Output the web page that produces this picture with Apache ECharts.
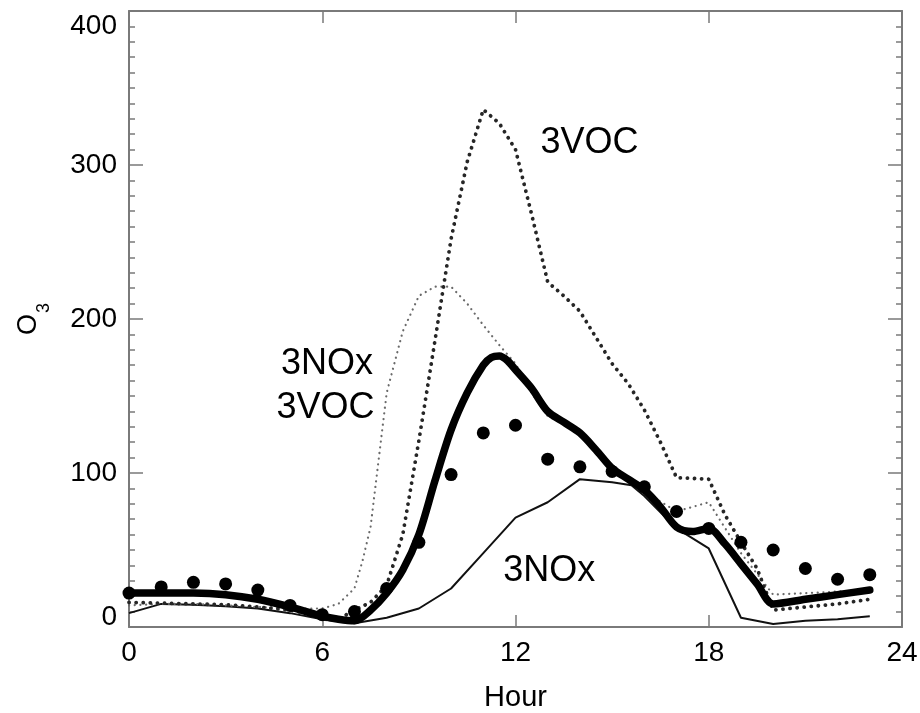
<!DOCTYPE html>
<html>
<head>
<meta charset="utf-8">
<title>O3 diurnal cycle</title>
<script src="https://cdn.jsdelivr.net/npm/echarts@6/dist/echarts.min.js"></script>
<style>
  html, body { margin: 0; padding: 0; background: #fff; }
  #chart { width: 920px; height: 713px; }
</style>
</head>
<body>
<div id="chart"></div>
<script>
// Observed O3, hourly
const obsHours = [0, 1, 2, 3, 4, 5, 6, 7, 8, 9, 10, 11, 12, 13, 14, 15, 16, 17, 18, 19, 20, 21, 22, 23];
const obsO3 = [22, 26, 29, 28, 24, 14, 8, 10, 25, 55, 99, 126, 131, 109, 104, 101, 91, 75, 64, 55, 50, 38, 31, 34];

// Base-case model run (thick solid line)
const baseHours = [0, 1, 2, 3, 4, 5, 6, 6.5, 7, 7.5, 8, 8.5, 9, 9.5, 10, 10.5, 11, 11.25, 11.5, 11.75, 12, 12.5, 13, 13.5, 14, 14.5, 15, 15.5, 16, 16.5, 17, 17.5, 18, 18.5, 19, 19.5, 20, 21, 22, 23];
const baseO3 = [22, 22, 22, 21, 18, 13, 7, 5, 4, 11, 22, 37, 60, 95, 128, 152, 170, 175, 176, 173, 167, 155, 140, 133, 126, 115, 103, 96, 89, 78, 65, 62, 64, 54, 41, 28, 15, 18, 21, 24];

// Run with VOC emissions tripled (thick dotted line)
const vocHours = [0, 1, 2, 3, 4, 5, 5.5, 6, 6.5, 7, 7.5, 8, 8.5, 9, 9.5, 10, 10.5, 11, 11.5, 12, 12.5, 13, 13.5, 14, 14.5, 15, 15.5, 16, 16.5, 17, 18, 18.5, 19, 19.5, 20, 21, 22, 23];
const vocO3 = [16, 15.5, 15, 14.5, 13, 11, 9, 5, 5, 11, 16, 27, 60, 121, 186, 252, 302, 336, 327, 310, 268, 224, 215, 205, 188, 171, 158, 141, 120, 97, 96, 73, 55, 38, 11, 13, 15, 18];

// Run with both NOx and VOC tripled (thin dotted line)
const bothHours = [0, 1, 2, 3, 4, 5, 6, 6.5, 7, 7.25, 7.5, 8, 8.5, 9, 9.5, 10, 10.5, 11, 11.5, 12, 12.5, 13, 14, 15, 16, 17, 18, 19, 20, 21, 22, 23];
const bothO3 = [14, 15, 15, 14, 13, 12, 12, 15, 25, 43, 65, 152, 192, 215, 221, 221, 210, 196, 183, 171, 152, 137, 126, 103, 88, 75, 81, 48, 21, 22, 23, 24];

// Run with NOx tripled (thin solid line)
const noxHours = [0, 1, 2, 3, 4, 5, 6, 7, 8, 9, 10, 11, 12, 13, 14, 15, 15.6, 16, 17, 18, 19, 20, 21, 22, 23];
const noxO3 = [9, 15, 14.5, 13.5, 12, 9, 5, 2.5, 6, 12, 25, 48, 71, 81, 96, 94, 92, 85, 64, 51, 6, 2, 4, 5, 7];

// Axis ticks
const xTicks = [0, 6, 12, 18, 24];
const yTicks = [0, 100, 200, 300, 400];

// Curve annotations: [hour, O3, text]
const annotations = [
  [14.3, 314, '3VOC'],
  [6.15, 171, '3NOx'],
  [6.1, 142, '3VOC'],
  [13.05, 36, '3NOx']
];

const FONT = '"Liberation Sans", Arial, Helvetica, sans-serif';
const INK = '#000';
const AXIS_GRAY = '#7a7a7a';
const zip = (xs, ys) => xs.map((x, i) => [x, ys[i]]);

const chart = echarts.init(document.getElementById('chart'), null, { renderer: 'canvas' });

const frameX = (pos, showLabels) => ({
  type: 'value',
  position: pos,
  min: xTicks[0],
  max: xTicks[xTicks.length - 1],
  interval: xTicks[1] - xTicks[0],
  axisLine: { show: true, onZero: false, lineStyle: { color: AXIS_GRAY, width: 2 } },
  axisTick: { show: true, inside: true, length: 12, lineStyle: { color: AXIS_GRAY, width: 1.5 } },
  minorTick: { show: false },
  splitLine: { show: false },
  axisLabel: {
    show: showLabels, margin: 12, fontSize: 28, lineHeight: 28,
    fontFamily: FONT, color: INK
  },
  name: showLabels ? 'Hour' : '',
  nameLocation: 'middle',
  nameGap: 56,
  nameTextStyle: { fontSize: 29, lineHeight: 29, fontFamily: FONT, color: INK }
});

const frameY = (pos, showLabels) => ({
  type: 'value',
  position: pos,
  min: yTicks[0],
  max: yTicks[yTicks.length - 1],
  interval: yTicks[1] - yTicks[0],
  axisLine: { show: true, onZero: false, lineStyle: { color: AXIS_GRAY, width: 2 } },
  axisTick: { show: true, inside: true, length: 14, lineStyle: { color: AXIS_GRAY, width: 1.5 } },
  minorTick: { show: true, splitNumber: 10, length: 6, lineStyle: { color: AXIS_GRAY, width: 1.5 } },
  splitLine: { show: false },
  axisLabel: {
    show: showLabels, margin: 12,
    fontSize: 28, fontFamily: FONT, color: INK,
    formatter: v => v === yTicks[0] ? '{lo|' + v + '}' : (v === yTicks[yTicks.length - 1] ? '{hi|' + v + '}' : String(v)),
    rich: {
      lo: { fontSize: 28, fontFamily: FONT, color: INK, padding: [0, 0, 20, 0] },
      hi: { fontSize: 28, fontFamily: FONT, color: INK, padding: [30, 0, 0, 0] }
    }
  },
  name: showLabels ? '{o|O}{s|3}' : '',
  nameLocation: 'middle',
  nameRotate: 90,
  nameGap: 88,
  nameTextStyle: {
    rich: {
      o: { fontSize: 27, lineHeight: 26, fontFamily: FONT, color: INK, verticalAlign: 'top' },
      s: { fontSize: 18, lineHeight: 16, fontFamily: FONT, color: INK, verticalAlign: 'top', padding: [20, 0, 0, 1] }
    }
  }
});

chart.setOption({
  animation: false,
  backgroundColor: '#ffffff',
  grid: { left: 129, right: 18, top: 11, bottom: 86, containLabel: false, outerBoundsMode: 'none' },
  xAxis: [frameX('bottom', true), frameX('top', false)],
  yAxis: [frameY('left', true), frameY('right', false)],
  series: [
    {
      name: '3NOx',
      type: 'line',
      data: zip(noxHours, noxO3),
      showSymbol: false,
      lineStyle: { color: '#111', width: 2 },
      z: 2
    },
    {
      name: '3NOx 3VOC',
      type: 'line',
      data: zip(bothHours, bothO3),
      showSymbol: false,
      lineStyle: { color: '#6a6a6a', width: 2.2, type: [0.1, 5.6], cap: 'round' },
      z: 2
    },
    {
      name: '3VOC',
      type: 'line',
      data: zip(vocHours, vocO3),
      showSymbol: false,
      lineStyle: { color: '#262626', width: 3.8, type: [0.1, 7], cap: 'round' },
      z: 3
    },
    {
      name: 'Base',
      type: 'line',
      data: zip(baseHours, baseO3),
      showSymbol: false,
      smooth: 0.3,
      lineStyle: { color: '#000', width: 7.5, cap: 'round', join: 'round' },
      z: 4
    },
    {
      name: 'Observed',
      type: 'scatter',
      data: zip(obsHours, obsO3),
      symbol: 'circle',
      symbolSize: 13,
      itemStyle: { color: '#000', opacity: 1 },
      z: 5
    },
    {
      name: 'labels',
      type: 'scatter',
      silent: true,
      data: annotations,
      symbolSize: 0,
      itemStyle: { opacity: 1 },
      label: {
        show: true,
        position: 'inside',
        formatter: p => p.data[2],
        fontSize: 36,
        fontFamily: FONT,
        color: INK,
        opacity: 1
      },
      z: 6
    }
  ]
});
</script>
</body>
</html>
